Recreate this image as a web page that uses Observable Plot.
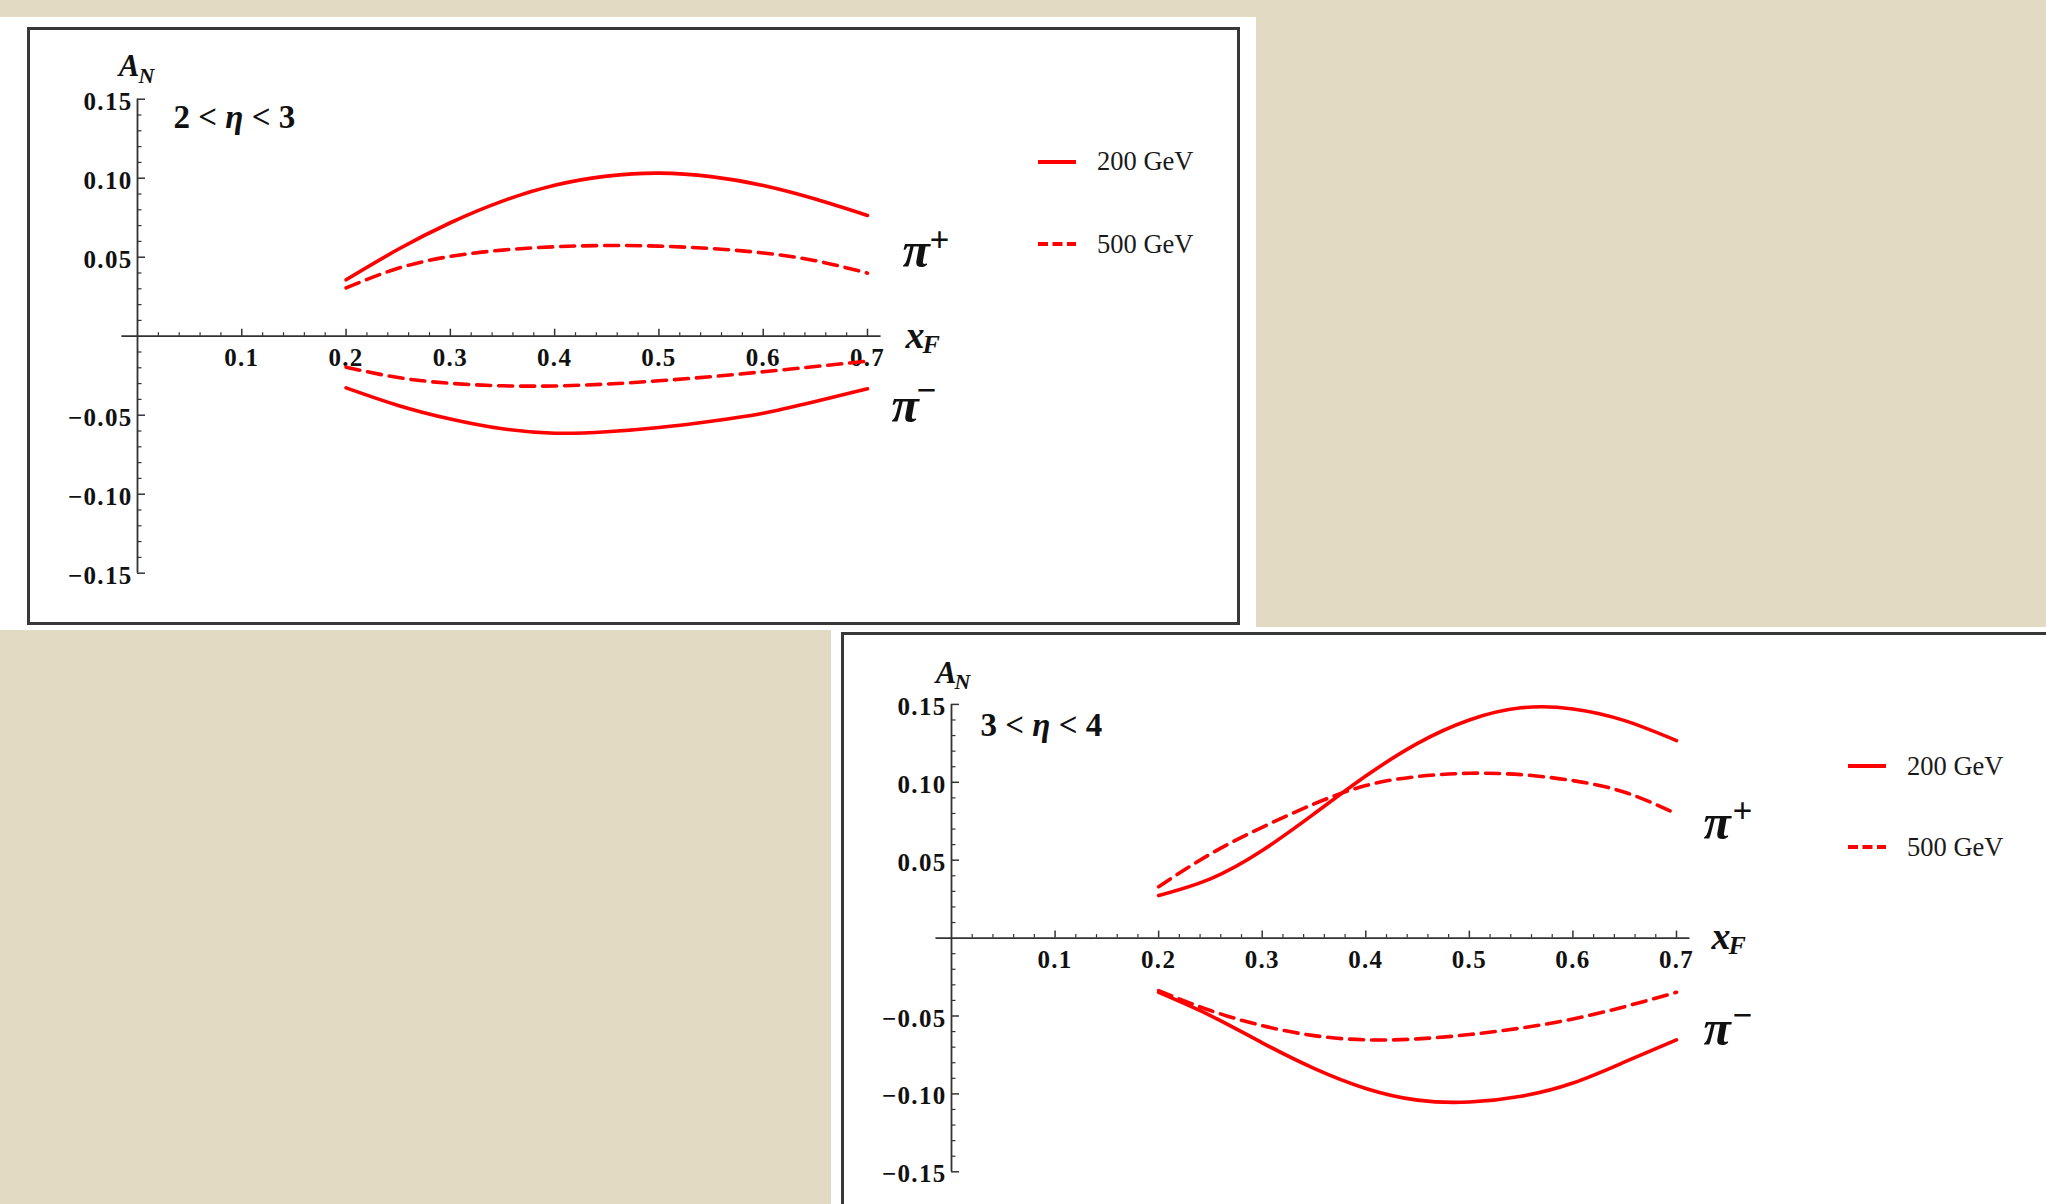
<!DOCTYPE html>
<html><head><meta charset="utf-8">
<script src="https://cdn.jsdelivr.net/npm/d3@7"></script>
<script src="https://cdn.jsdelivr.net/npm/@observablehq/plot@0.6"></script>
<style>
body{margin:0;background:#e3dac4;}
#root{position:relative;width:2046px;height:1204px;background:#e3dac4;overflow:hidden;font-family:"Liberation Serif",serif;}
.abs{position:absolute;}
.white{position:absolute;background:#fff;}
.frame{position:absolute;box-sizing:border-box;border:3px solid #383838;}
.legtxt{position:absolute;font:26.5px "Liberation Serif",serif;color:#1a1a1a;white-space:nowrap;line-height:27px;height:27px;}
.legsw{position:absolute;}
</style></head>
<body><div id="root">
 <div class="white" style="left:0;top:17px;width:1256px;height:613px"></div>
 <div class="white" style="left:831px;top:627px;width:1215px;height:577px"></div>
 <div class="frame" style="left:27px;top:27px;width:1213px;height:598px"></div>
 <div class="frame" style="left:841px;top:632px;width:1300px;height:700px"></div>
 <div id="p1" class="abs" style="left:0;top:17px;width:1256px;height:613px"></div>
 <div id="p2" class="abs" style="left:831px;top:627px;width:1215px;height:577px"></div>
</div>
<script>
// ---------- data ----------
const xF = [0.2, 0.25, 0.3, 0.35, 0.4, 0.45, 0.5, 0.55, 0.6, 0.65, 0.7];

// panel 1 : 2 < eta < 3
const p1PiPlus200  = [0.0357, 0.0550, 0.0718, 0.0855, 0.0955, 0.1013, 0.1032, 0.1010, 0.0954, 0.0868, 0.0764];
const p1PiPlus500  = [0.0306, 0.0430, 0.0505, 0.0545, 0.0566, 0.0574, 0.0570, 0.0555, 0.0527, 0.0478, 0.0399];
const p1PiMinus500 = [-0.0196, -0.0262, -0.0298, -0.0314, -0.0315, -0.0303, -0.0282, -0.0256, -0.0225, -0.0192, -0.0158];
const p1PiMinus200 = [-0.0327, -0.0438, -0.0524, -0.0586, -0.0614, -0.0605, -0.0578, -0.0538, -0.0487, -0.0413, -0.0333];

// panel 2 : 3 < eta < 4
const p2PiPlus200  = [0.0273, 0.0380, 0.0562, 0.0797, 0.1040, 0.1250, 0.1400, 0.1478, 0.1471, 0.1396, 0.1268];
const p2PiPlus500  = [0.0330, 0.0540, 0.0711, 0.0861, 0.0979, 0.1037, 0.1058, 0.1049, 0.1011, 0.0936, 0.0797];
const p2PiMinus500 = [-0.0337, -0.0465, -0.0562, -0.0626, -0.0653, -0.0647, -0.0619, -0.0577, -0.0519, -0.0440, -0.0348];
const p2PiMinus200 = [-0.0348, -0.0497, -0.0672, -0.0836, -0.0965, -0.1040, -0.1052, -0.1015, -0.0930, -0.0795, -0.0653];

// ticks
const xTickVals = [0.1, 0.2, 0.3, 0.4, 0.5, 0.6, 0.7];
const xTickLabels = ["0.1", "0.2", "0.3", "0.4", "0.5", "0.6", "0.7"];
const yTickVals = [-0.15, -0.10, -0.05, 0.05, 0.10, 0.15];
const yTickLabels = ["\u22120.15", "\u22120.10", "\u22120.05", "0.05", "0.10", "0.15"];
const xMinor = d3.range(1, 36).map(i => i * 0.02).filter(v => Math.abs(v * 10 - Math.round(v * 10)) > 1e-6);
const yMinor = d3.range(-15, 16).map(i => i * 0.01).filter(v => Math.round(v * 100) % 5 !== 0);

const legendLabels = ["200 GeV", "500 GeV"];
const etaLabels = [["2", "3"], ["3", "4"]];

// ---------- style ----------
const RED = "#ff0000";
const AXC = "#333";
const TXT = "#111";
const SERIF = "Liberation Serif, Times New Roman, serif";

function series(vals){ return xF.map((x, i) => ({x, y: vals[i]})); }

function panel(el, cfg, data, eta){
  const xt = xTickVals.map((v, i) => ({v, t: xTickLabels[i]}));
  const yt = yTickVals.map((v, i) => ({v, t: yTickLabels[i]}));
  const L = cfg.lab;
  const etaText = eta[0] + " < \u03b7 < " + eta[1];
  const lab = (txt, x, y, d, size, italic, anchor = "start") =>
    Plot.text([txt], {x, y, text: t => t, textAnchor: anchor, lineAnchor: "bottom", dx: d[0], dy: d[1],
      fontSize: size, fontWeight: "bold", fontStyle: italic ? "italic" : "normal", fontFamily: SERIF, fill: TXT});
  const svg = Plot.plot({
    width: cfg.width, height: cfg.height,
    marginLeft: cfg.ml, marginRight: cfg.mr, marginTop: cfg.mt, marginBottom: cfg.mb,
    x: {domain: [0, 0.7], axis: null},
    y: {domain: [-0.15, 0.15], axis: null},
    style: {background: "transparent", overflow: "visible"},
    marks: [
      // axes
      Plot.ruleY([0], {x1: -0.015, x2: 0.713, stroke: AXC, strokeWidth: 1.8}),
      Plot.ruleX([0], {y1: -0.15, y2: 0.15, stroke: AXC, strokeWidth: 1.8}),
      Plot.ruleX(xTickVals, {x: d => d, y1: 0, y2: 0, insetTop: -7, stroke: AXC, strokeWidth: 1.5}),
      Plot.ruleX(xMinor, {x: d => d, y1: 0, y2: 0, insetTop: -3.5, stroke: AXC, strokeWidth: 1.2}),
      Plot.ruleY(yTickVals, {y: d => d, x1: 0, x2: 0, insetRight: -8, stroke: AXC, strokeWidth: 1.5}),
      Plot.ruleY(yMinor, {y: d => d, x1: 0, x2: 0, insetRight: -4.5, stroke: AXC, strokeWidth: 1.2}),
      // tick labels
      Plot.text(xt, {x: "v", y: 0, text: "t", dy: 22, fontSize: 25, fontWeight: "bold", fontFamily: SERIF, fill: TXT}),
      Plot.text(yt, {x: 0, y: "v", text: "t", dx: -5, dy: 2.5, textAnchor: "end", fontSize: 25, fontWeight: "bold", fontFamily: SERIF, fill: TXT}),
      // curves
      Plot.line(series(data.plus200), {x: "x", y: "y", stroke: RED, strokeWidth: 3.6, curve: "natural"}),
      Plot.line(series(data.minus200), {x: "x", y: "y", stroke: RED, strokeWidth: 3.6, curve: "natural"}),
      Plot.line(series(data.plus500), {x: "x", y: "y", stroke: RED, strokeWidth: 3.6, strokeDasharray: "14,8", curve: "natural"}),
      Plot.line(series(data.minus500), {x: "x", y: "y", stroke: RED, strokeWidth: 3.6, strokeDasharray: "14,8", curve: "natural"}),
      // axis titles
      lab("A", 0, 0.15, L.A, 31, true, "end"),
      lab("N", 0, 0.15, L.N, 22, true),
      lab(etaText, 0, 0.15, L.eta, 33, false),
      lab("x", 0.7, 0, L.x, 38, true),
      lab("F", 0.7, 0, L.F, 26, true),
      // pion labels
      lab("\u03c0", 0.7, 0, L.pip, 50, true),
      lab("+", 0.7, 0, L.plus, 35, false),
      lab("\u03c0", 0.7, 0, L.pim, 50, true),
      lab("\u2212", 0.7, 0, L.minus, 35, false)
    ]
  });
  const tickSet = new Set([...xTickLabels, ...yTickLabels]);
  svg.querySelectorAll("text").forEach(t => {
    if (tickSet.has(t.textContent)) t.style.letterSpacing = "1.3px";
    if (t.textContent === etaText) {
      // italic eta, as in the original
      const parts = [eta[0] + " < ", "\u03b7", " < " + eta[1]];
      t.textContent = "";
      parts.forEach((p, k) => {
        const ts = document.createElementNS("http://www.w3.org/2000/svg", "tspan");
        ts.textContent = p;
        if (k === 1) ts.setAttribute("font-style", "italic");
        t.appendChild(ts);
      });
      t.setAttribute("xml:space", "preserve");
      t.style.whiteSpace = "pre";
    }
  });
  el.appendChild(svg);
}

function legend(left, cySolid, cyDashed){
  const root = document.getElementById("root");
  [[cySolid, null, legendLabels[0]], [cyDashed, "10,4.5", legendLabels[1]]].forEach(([cy, dash, label]) => {
    const ns = "http://www.w3.org/2000/svg";
    const s = document.createElementNS(ns, "svg");
    s.setAttribute("width", 40); s.setAttribute("height", 8);
    s.setAttribute("class", "legsw");
    s.style.left = left + "px"; s.style.top = (cy - 4) + "px";
    const ln = document.createElementNS(ns, "line");
    ln.setAttribute("x1", 0); ln.setAttribute("x2", 38); ln.setAttribute("y1", 4); ln.setAttribute("y2", 4);
    ln.setAttribute("stroke", RED); ln.setAttribute("stroke-width", 3.8);
    if (dash) ln.setAttribute("stroke-dasharray", dash);
    s.appendChild(ln); root.appendChild(s);
    const d = document.createElement("div");
    d.className = "legtxt"; d.textContent = label;
    d.style.left = (left + 59) + "px"; d.style.top = (cy - 13.5) + "px";
    root.appendChild(d);
  });
}

panel(document.getElementById("p1"), {
  width: 1256, height: 613, ml: 137, mr: 389, mt: 81.7, mb: 57.3,
  lab: {A: [2, -23.7], N: [1, -16.7], eta: [36, 28.6], x: [38, 11.3], F: [55, 16.3],
        pip: [35, -69.7], plus: [62, -84.7], pim: [24, 85.3], minus: [49, 65.3]}
}, {plus200: p1PiPlus200, plus500: p1PiPlus500, minus500: p1PiMinus500, minus200: p1PiMinus200}, etaLabels[0]);

panel(document.getElementById("p2"), {
  width: 1215, height: 577, ml: 120, mr: 370, mt: 76.9, mb: 32.7,
  lab: {A: [5, -21], N: [3, -15], eta: [29, 31.6], x: [35, 10.4], F: [52, 15.4],
        pip: [27, -99.6], plus: [56, -115.6], pim: [27, 107], minus: [56, 89]}
}, {plus200: p2PiPlus200, plus500: p2PiPlus500, minus500: p2PiMinus500, minus200: p2PiMinus200}, etaLabels[1]);

legend(1038, 161.7, 244);
legend(1848, 766.4, 847.2);
</script>
</body></html>
